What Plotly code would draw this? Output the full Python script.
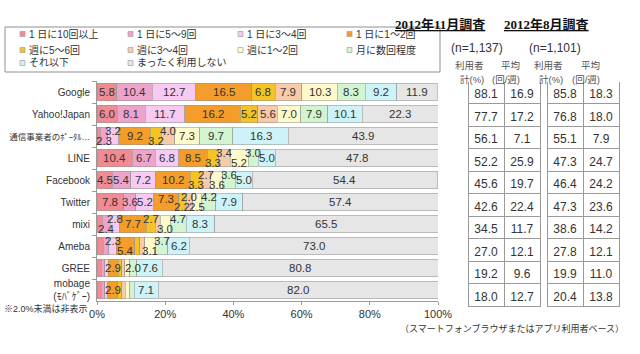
import plotly.graph_objects as go

# ---------------- data ----------------
categories = ["Google", "Yahoo!Japan", "通信事業者のﾎﾟｰﾀﾙ…", "LINE", "Facebook",
              "Twitter", "mixi", "Ameba", "GREE", "mobage<br>(ﾓﾊﾞｹﾞｰ)"]

series_names = ["1 日に10回以上", "1 日に5～9回", "1 日に3～4回", "1 日に1～2回",
                "週に5～6回", "週に3～4回", "週に1～2回", "月に数回程度",
                "それ以下", "まったく利用しない"]

day_10plus = [5.8, 6.0, 0.9, 10.4, 4.5, 7.8, 1.5, 1.8, 1.2, 1.3]
day_5to9 = [10.4, 8.1, 2.3, 6.7, 5.4, 3.6, 2.4, 1.6, 1.0, 1.0]
day_3to4 = [12.7, 11.7, 3.2, 6.8, 7.2, 5.2, 2.8, 2.3, 1.1, 0.9]
day_1to2 = [16.5, 16.2, 9.2, 8.5, 10.2, 7.3, 7.7, 5.4, 2.9, 2.9]
week_5to6 = [6.8, 5.2, 3.2, 3.3, 3.3, 2.2, 2.7, 1.4, 1.0, 1.2]
week_3to4 = [7.9, 5.6, 4.0, 3.4, 2.7, 2.0, 1.4, 1.5, 1.0, 1.0]
week_1to2 = [10.3, 7.0, 7.3, 5.2, 3.6, 2.5, 3.0, 3.1, 1.4, 1.3]
month_few = [8.3, 7.9, 9.7, 3.0, 3.6, 4.2, 4.7, 3.7, 2.0, 1.3]
less_often = [9.2, 10.1, 16.3, 5.0, 5.0, 7.9, 8.3, 6.2, 7.6, 7.1]
never_use = [11.9, 22.3, 43.9, 47.8, 54.4, 57.4, 65.5, 73.0, 80.8, 82.0]

all_series = [day_10plus, day_5to9, day_3to4, day_1to2, week_5to6,
              week_3to4, week_1to2, month_few, less_often, never_use]

x_tick_vals = [0, 20, 40, 60, 80, 100]
x_tick_text = ["0%", "20%", "40%", "60%", "80%", "100%"]

nov_users = [88.1, 77.7, 56.1, 52.2, 45.6, 42.6, 34.5, 27.0, 19.2, 18.0]
nov_avg = [16.9, 17.2, 7.1, 25.9, 19.7, 22.4, 11.7, 12.1, 9.6, 12.7]
aug_users = [85.8, 76.8, 55.1, 47.3, 46.4, 47.3, 38.6, 27.8, 19.9, 20.4]
aug_avg = [18.3, 18.0, 7.9, 24.7, 24.2, 23.6, 14.2, 12.1, 11.0, 13.8]

header_top = ["利用者", "平均"]
header_bottom = ["計(%)", "(回/週)"]

# ---------------- styles ----------------
colors = ["#F08A93", "#EEA3CB", "#F7CBF1", "#F59D2A", "#F3C424",
          "#F7CBA9", "#FFFACB", "#D2F4D0", "#CDF3F8", "#E6E6E6"]

# label stagger (-1 low, +1 high) for crowded rows: {row index: {segment index: dir}}
stagger = {
    2: {1: -1, 2: 1, 4: -1, 5: 1},
    3: {4: -1, 5: 1, 6: -1, 7: 1},
    4: {4: -1, 5: 1, 6: -1, 7: 1},
    5: {3: 0.6, 4: -1, 5: 1, 6: -1, 7: 1},
    6: {1: -1, 2: 1, 4: 1, 6: -1, 7: 1},
    7: {2: 1, 3: -1, 6: -1, 7: 1},
}

FONT = "Liberation Sans, Arial, Noto Sans CJK JP, sans-serif"
W, H = 640, 354

def px_x(p):
    return p / W

def px_y(p):
    return 1 - p / H

# tick labels: the long (truncated) portal label is drawn smaller so it fits
tick_labels = [f'<span style="font-size:8.5px">{c}</span>' if c.endswith("…") else c
               for c in categories]

fig = go.Figure()
for name, vals, col in zip(series_names, all_series, colors):
    fig.add_trace(go.Bar(
        y=categories, x=vals, name=name, orientation="h", showlegend=False,
        marker=dict(color=col, line=dict(color="rgba(150,150,150,0.55)", width=1)),
        hoverinfo="x+y+name",
    ))

annotations = []
shapes = []
for r, cat in enumerate(categories):
    cum = 0.0
    for s, vals in enumerate(all_series):
        v = vals[r]
        if v >= 2.0:
            shift = stagger.get(r, {}).get(s, 0) * 5
            annotations.append(dict(
                x=cum + v / 2, y=cat, xref="x", yref="y", text=f"{v:.1f}",
                showarrow=False, yshift=shift,
                font=dict(size=11.5, color="#333333", family=FONT)))
        cum += v

# ---- manual legend (4 columns) ----
shapes.append(dict(type="rect", xref="paper", yref="paper",
                   x0=px_x(5), x1=px_x(440), y0=px_y(72), y1=px_y(27),
                   line=dict(color="#8f8f8f", width=1), fillcolor="rgba(0,0,0,0)"))
col_x = [20, 128, 238, 347]
row_y = [34, 50, 63]
for i, (name, col) in enumerate(zip(series_names, colors)):
    cx = col_x[i % 4]
    cy = row_y[i // 4]
    shapes.append(dict(type="rect", xref="paper", yref="paper",
                       x0=px_x(cx), x1=px_x(cx + 5), y0=px_y(cy + 2.5), y1=px_y(cy - 2.5),
                       line=dict(color="#a0a0a0", width=0.7), fillcolor=col))
    annotations.append(dict(x=px_x(cx + 7), y=px_y(cy), xref="paper", yref="paper",
                            text=name, xanchor="left", yanchor="middle", showarrow=False,
                            font=dict(size=10, color="#333333", family=FONT)))

# ---- titles / notes ----
title_font = dict(size=13, color="#111111",
                  family="Liberation Serif, Noto Sans CJK JP, serif", lineposition="under")
annotations += [
    dict(x=px_x(487), y=px_y(15), xref="paper", yref="paper", text="<b>2012年11月調査</b>",
         showarrow=False, font=title_font),
    dict(x=px_x(591), y=px_y(15), xref="paper", yref="paper", text="<b>2012年8月調査</b>",
         showarrow=False, font=title_font),
    dict(x=px_x(505), y=px_y(39), xref="paper", yref="paper", text="(n=1,137)",
         showarrow=False, font=dict(size=12, color="#333333", family=FONT)),
    dict(x=px_x(583), y=px_y(39), xref="paper", yref="paper", text="(n=1,101)",
         showarrow=False, font=dict(size=12, color="#333333", family=FONT)),
    dict(x=px_x(2), y=px_y(316), xref="paper", yref="paper", text="※2.0%未満は非表示",
         xanchor="left", showarrow=False, font=dict(size=9, color="#333333", family=FONT)),
    dict(x=px_x(398), y=px_y(336), xref="paper", yref="paper",
         text="（スマートフォンブラウザまたはアプリ利用者ベース）",
         xanchor="left", showarrow=False, font=dict(size=9, color="#333333", family=FONT)),
]

def add_table(x0, x1, c1, c2):
    xm = (x0 + x1) / 2
    for cx, top, bot in zip([(x0 + xm) / 2, (xm + x1) / 2], header_top, header_bottom):
        annotations.append(dict(x=px_x(cx), y=px_y(58), xref="paper", yref="paper",
                                text=top, showarrow=False,
                                font=dict(size=9.5, color="#555555", family=FONT)))
        annotations.append(dict(x=px_x(cx), y=px_y(72), xref="paper", yref="paper",
                                text=bot, showarrow=False,
                                font=dict(size=9.5, color="#555555", family=FONT)))
    fig.add_trace(go.Table(
        domain=dict(x=[px_x(x0), px_x(x1)], y=[px_y(340), px_y(80)]),
        columnwidth=[1, 1],
        header=dict(values=["", ""], height=1, fill_color="white", line_color="white",
                    font=dict(size=1, color="white")),
        cells=dict(values=[[f"{v:.1f}" for v in c1], [f"{v:.1f}" for v in c2]],
                   height=22.5, fill_color="white", line_color="#9a9a9a",
                   align="center", font=dict(size=12, color="#333333", family=FONT)),
    ))

add_table(468, 540, nov_users, nov_avg)
add_table(547, 620, aug_users, aug_avg)

fig.update_layout(
    width=W, height=H, barmode="stack", bargap=0.22,
    margin=dict(l=0, r=0, t=0, b=0, autoexpand=False),
    paper_bgcolor="white", plot_bgcolor="white",
    font=dict(family=FONT, color="#333333"),
    annotations=annotations, shapes=shapes,
    showlegend=False,
    xaxis=dict(domain=[px_x(97), px_x(438)], range=[0, 100], tickvals=x_tick_vals,
               ticktext=x_tick_text, showgrid=False, zeroline=False, showline=True,
               linecolor="#9a9a9a", ticks="outside", ticklen=3, tickcolor="#9a9a9a",
               tickfont=dict(size=11, color="#333333")),
    yaxis=dict(domain=[px_y(301), px_y(81)], autorange="reversed", showgrid=False,
               showline=True, linecolor="#9a9a9a", ticks="outside", ticklen=4,
               tickcolor="#9a9a9a", tickson="boundaries", ticklabelstandoff=4,
               tickvals=categories, ticktext=tick_labels,
               tickfont=dict(size=10, color="#333333")),
)

fig.write_html("out.html")
